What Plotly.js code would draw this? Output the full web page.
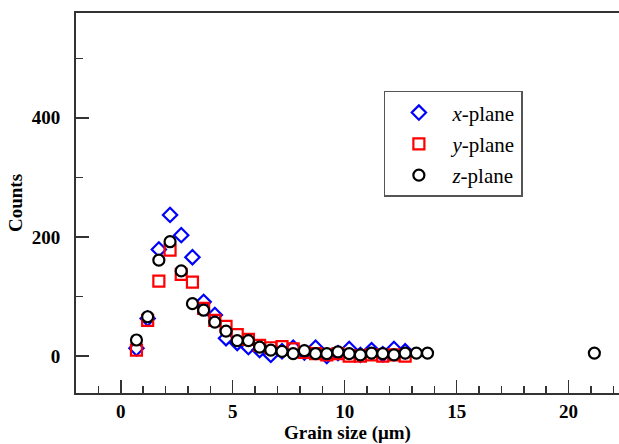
<!DOCTYPE html>
<html>
<head>
<meta charset="utf-8">
<script src="https://cdn.plot.ly/plotly-3.0.1.min.js"></script>
<style>html,body{margin:0;padding:0;background:#fff;}#chart{width:619px;height:444px;}</style>
</head>
<body>
<div id="chart"></div>
<script>
// Grain size bin centres (µm)
const grainSize = [0.7,1.2,1.7,2.2,2.7,3.2,3.7,4.2,4.7,5.2,5.7,6.2,6.7,7.2,7.7,8.2,8.7,9.2,9.7,10.2,10.7,11.2,11.7,12.2,12.7,13.2,13.7];
const grainSizeZ = grainSize.concat([21.15]);

const xPlane = [13,63,179,237,203,166,91,69,30,22,15,10,2,8,14,6,14,0,5,12,2,10,3,12,8];
const yPlane = [10,60,126,178,137,124,80,60,50,36,28,18,14,16,12,6,4,2,4,0,0,2,0,2,0];
const zPlane = [27,66,161,192,143,88,77,57,42,26,26,15,10,8,4,9,4,4,7,4,2,5,4,2,5,5,5,5];

const seriesNames = ['<i>x</i>-plane','<i>y</i>-plane','<i>z</i>-plane'];

const traces = [
  {x: grainSize.slice(0, xPlane.length), y: xPlane, name: seriesNames[0], mode: 'markers', type: 'scatter', legendgroup: 'a',
   marker: {symbol: 'diamond-open', size: 11, color: '#0000ff', line: {width: 2.2, color: '#0000ff'}}},
  {x: grainSize.slice(0, yPlane.length), y: yPlane, name: seriesNames[1], mode: 'markers', type: 'scatter', legendgroup: 'b',
   marker: {symbol: 'square-open', size: 11, color: '#ff0000', line: {width: 2.2, color: '#ff0000'}}},
  {x: grainSizeZ, y: zPlane, name: seriesNames[2], mode: 'markers', type: 'scatter', legendgroup: 'c',
   marker: {symbol: 'circle', size: 11, color: '#ffffff', line: {width: 2.2, color: '#000000'}}}
];

const fontFam = '"Liberation Serif", "Times New Roman", serif';

const layout = {
  width: 619, height: 444,
  margin: {l: 76, r: 0, t: 13, b: 51},
  paper_bgcolor: '#ffffff', plot_bgcolor: '#ffffff',
  font: {family: fontFam, color: '#000'},
  showlegend: true,
  legend: {
    x: 0.567, y: 0.795, xanchor: 'left', yanchor: 'top',
    bordercolor: '#555555', borderwidth: 1.5, bgcolor: '#ffffff',
    font: {family: fontFam, size: 21, color: '#000'},
    traceorder: 'grouped', tracegroupgap: 1, itemwidth: 57
  },
  xaxis: {
    range: [-2, 22.25], showgrid: false, zeroline: false,
    showline: true, linecolor: '#333', linewidth: 2, mirror: true,
    ticks: 'inside', ticklen: 13, tickwidth: 1.5, tickcolor: '#333',
    tick0: 0, dtick: 5,
    minor: {ticks: 'inside', ticklen: 7, tickwidth: 1.5, tickcolor: '#333', dtick: 1, showgrid: false},
    tickfont: {family: fontFam, size: 19, color: '#000', weight: 'bold'},
    ticklabelstandoff: 0,
    title: {text: '<b>Grain size (μm)</b>', font: {family: fontFam, size: 19, color: '#000'}, standoff: 6}
  },
  yaxis: {
    range: [-62, 576], showgrid: false, zeroline: false,
    showline: true, linecolor: '#333', linewidth: 2, mirror: false,
    ticks: 'inside', ticklen: 13, tickwidth: 1.5, tickcolor: '#333',
    tick0: 0, dtick: 200,
    minor: {ticks: 'inside', ticklen: 7, tickwidth: 1.5, tickcolor: '#333', dtick: 100, showgrid: false},
    tickfont: {family: fontFam, size: 19, color: '#000', weight: 'bold'},
    ticklabelstandoff: 10,
    title: {text: '<b>Counts</b>', font: {family: fontFam, size: 19, color: '#000'}, standoff: 4}
  }
};

Plotly.newPlot('chart', traces, layout, {displayModeBar: false, staticPlot: true});
</script>
</body>
</html>
